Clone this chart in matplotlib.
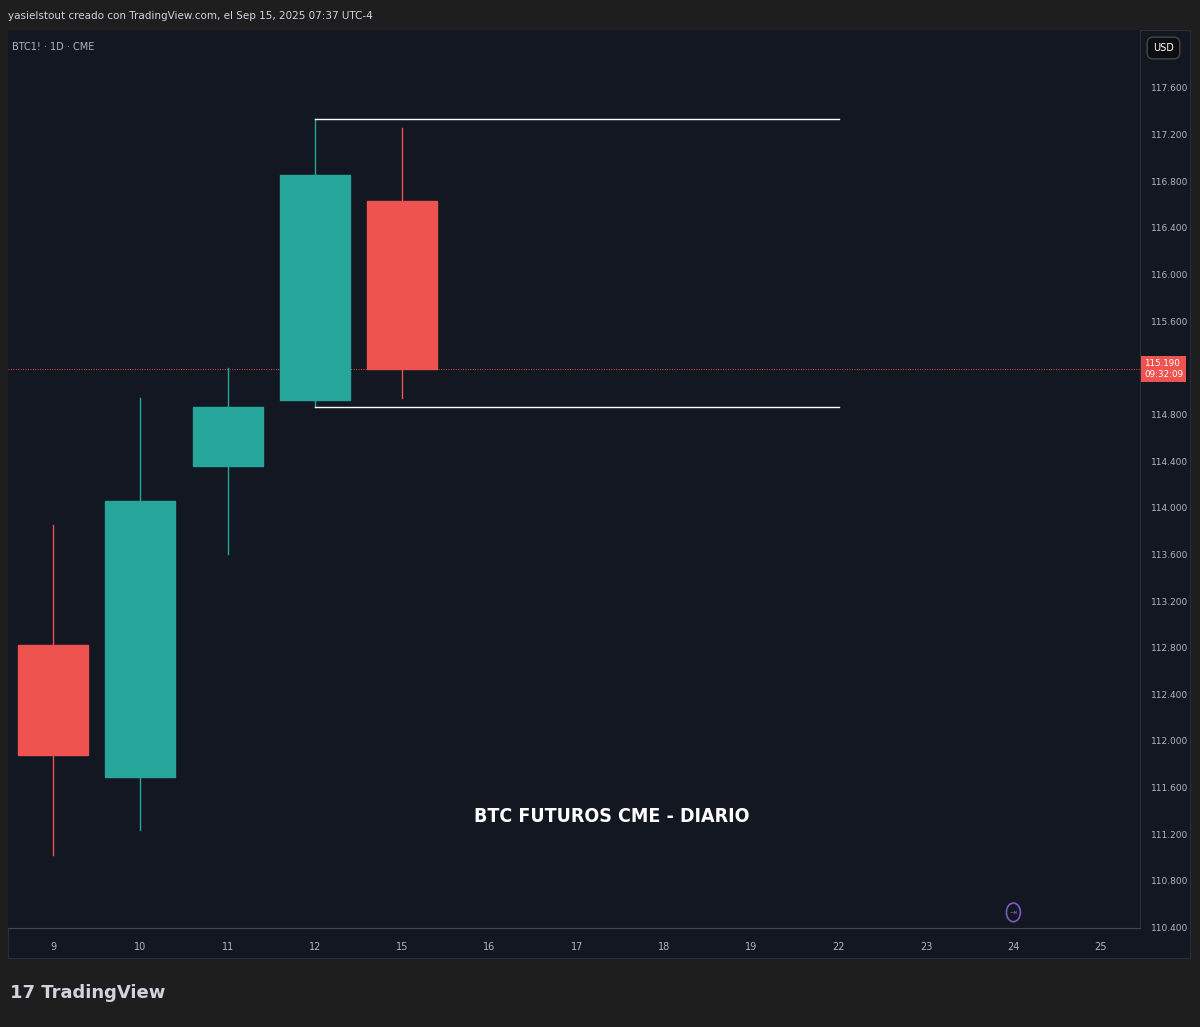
import matplotlib.pyplot as plt
from matplotlib.patches import Rectangle, Circle

# daily candles, values in thousands (USD)
days = ["9", "10", "11", "12", "15", "16", "17", "18", "19", "22", "23", "24", "25"]
opens = [112.82, 111.69, 114.36, 114.92, 116.63]
closes = [111.88, 114.06, 114.86, 116.85, 115.19]
highs = [113.85, 114.94, 115.20, 117.33, 117.26]
lows = [111.02, 111.24, 113.60, 114.86, 114.94]
range_top = 117.33
range_bot = 114.86
last_price = 115.19
price_ticks = [110.4, 110.8, 111.2, 111.6, 112.0, 112.4, 112.8, 113.2, 113.6, 114.0,
               114.4, 114.8, 115.2, 115.6, 116.0, 116.4, 116.8, 117.2, 117.6]

UP = "#26a69a"
DN = "#ef5350"
BG = "#131722"
W, H = 1200, 1027

fig = plt.figure(figsize=(12, 10.27), dpi=100, facecolor="#1e1e1e")

def fr(x0, y0, x1, y1):
    return [x0 / W, 1 - y1 / H, (x1 - x0) / W, (y1 - y0) / H]

# chart panel background
bg = fig.add_axes(fr(8, 30, 1190, 958)); bg.set_facecolor(BG); bg.set_xticks([]); bg.set_yticks([])
for s in bg.spines.values():
    s.set_color("#2a2e39")

ax = fig.add_axes(fr(8, 30, 1140, 928))
ax.set_facecolor(BG)
ax.set_xlim(-0.515, 12.45)
ax.set_ylim(110.396, 118.097)
for s in ax.spines.values():
    s.set_visible(False)
ax.spines["right"].set_visible(True); ax.spines["right"].set_color("#2a2e39")
ax.spines["bottom"].set_visible(True); ax.spines["bottom"].set_color("#434651")

for i, (o, c, h, l) in enumerate(zip(opens, closes, highs, lows)):
    col = UP if c >= o else DN
    ax.plot([i, i], [l, h], color=col, lw=1, zorder=2)
    ax.add_patch(Rectangle((i - 0.4, min(o, c)), 0.8, abs(c - o), color=col, zorder=3))

ax.plot([3, 9], [range_top, range_top], color="white", lw=1, zorder=4)
ax.plot([3, 9], [range_bot, range_bot], color="white", lw=1, zorder=4)
ax.axhline(last_price, color="#ef5350", lw=0.7, ls=(0, (1, 1.5)), alpha=0.9, zorder=1)

ax.yaxis.tick_right()
ax.set_yticks(price_ticks)
ax.set_yticklabels(["" if abs(t - 115.2) < 1e-6 else f"{t:.3f}" for t in price_ticks],
                   color="#b2b5be", fontsize=6.5)
ax.tick_params(axis="y", length=0, pad=8)
ax.set_xticks(range(len(days)))
ax.set_xticklabels(days, color="#b2b5be", fontsize=7)
ax.tick_params(axis="x", length=0, pad=10)

ax.text(6.4, 111.35, "BTC FUTUROS CME - DIARIO", color="white", fontsize=14,
        fontweight="bold", ha="center", va="center", fontstretch="condensed")
ax.add_patch(Circle((11, 110.53), 0.08, fill=False, ec="#7e57c2", lw=1.2, transform=ax.transData, zorder=5))
ax.text(11, 110.53, "⇥", color="#7e57c2", fontsize=6, ha="center", va="center")

fig.text(1144 / W, 1 - 369 / H, "115.190\n09:32:09", color="white", fontsize=6.3, ha="left",
         va="center", linespacing=1.3, bbox=dict(boxstyle="square,pad=0.3", fc=DN, ec="none"))

fig.text(1153 / W, 1 - 48 / H, "USD", color="white", fontsize=7, va="center",
         bbox=dict(boxstyle="round,pad=0.6", fc="#0e0e0e", ec="#434651"))
fig.text(12 / W, 1 - 47 / H, "BTC1! · 1D · CME", color="#b2b5be", fontsize=7, va="center")
fig.text(8 / W, 1 - 16 / H, "yasielstout creado con TradingView.com, el Sep 15, 2025 07:37 UTC-4",
         color="#d1d4dc", fontsize=7.5, va="center")
fig.text(10 / W, 1 - 993 / H, "17 TradingView", color="#d1d4dc", fontsize=13, fontweight="bold", va="center")

fig.savefig("out.png", dpi=100, facecolor=fig.get_facecolor())
